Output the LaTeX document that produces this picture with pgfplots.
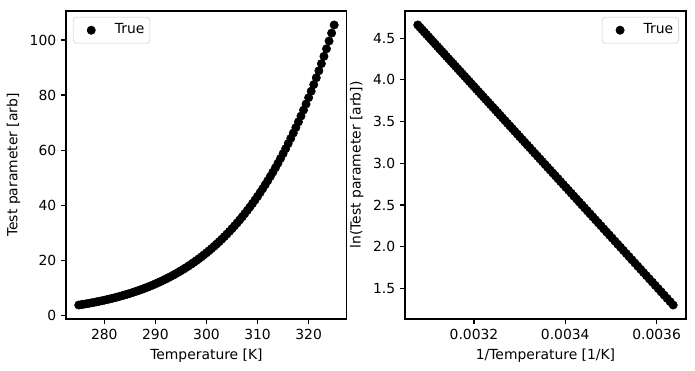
\documentclass[border=0pt]{standalone}
\usepackage{fontspec}
\setmainfont{DejaVu Sans}
\usepackage{pgfplots}
\usepackage{pgfplotstable}
\pgfplotsset{compat=1.18}
\pgfplotstableread{
T y invT lny
275.0 3.6760 0.0036364 1.30182
275.5 3.8245 0.0036298 1.34142
276.0 3.9784 0.0036232 1.38087
276.5 4.1379 0.0036166 1.42018
277.0 4.3032 0.0036101 1.45935
277.5 4.4744 0.0036036 1.49838
278.0 4.6519 0.0035971 1.53727
278.5 4.8356 0.0035907 1.57601
279.0 5.0260 0.0035842 1.61462
279.5 5.2231 0.0035778 1.65309
280.0 5.4272 0.0035714 1.69143
280.5 5.6385 0.0035651 1.72963
281.0 5.8572 0.0035587 1.76769
281.5 6.0837 0.0035524 1.80561
282.0 6.3180 0.0035461 1.84340
282.5 6.5604 0.0035398 1.88106
283.0 6.8113 0.0035336 1.91859
283.5 7.0709 0.0035273 1.95598
284.0 7.3392 0.0035211 1.99324
284.5 7.6170 0.0035149 2.03037
285.0 7.9040 0.0035088 2.06737
285.5 8.2009 0.0035026 2.10424
286.0 8.5078 0.0034965 2.14098
286.5 8.8251 0.0034904 2.17759
287.0 9.1530 0.0034843 2.21408
287.5 9.4918 0.0034783 2.25043
288.0 9.8420 0.0034722 2.28667
288.5 10.2039 0.0034662 2.32277
289.0 10.5777 0.0034602 2.35875
289.5 10.9639 0.0034542 2.39461
290.0 11.3627 0.0034483 2.43034
290.5 11.7748 0.0034423 2.46596
291.0 12.2000 0.0034364 2.50144
291.5 12.6393 0.0034305 2.53681
292.0 13.0927 0.0034247 2.57205
292.5 13.5608 0.0034188 2.60718
293.0 14.0437 0.0034130 2.64218
293.5 14.5424 0.0034072 2.67707
294.0 15.0569 0.0034014 2.71184
294.5 15.5878 0.0033956 2.74649
295.0 16.1354 0.0033898 2.78102
295.5 16.7003 0.0033841 2.81543
296.0 17.2831 0.0033784 2.84973
296.5 17.8840 0.0033727 2.88391
297.0 18.5038 0.0033670 2.91798
297.5 19.1428 0.0033613 2.95193
298.0 19.8016 0.0033557 2.98577
298.5 20.4810 0.0033501 3.01950
299.0 21.1812 0.0033445 3.05311
299.5 21.9026 0.0033389 3.08661
300.0 22.6464 0.0033333 3.12000
300.5 23.4127 0.0033278 3.15328
301.0 24.2025 0.0033223 3.18645
301.5 25.0155 0.0033167 3.21950
302.0 25.8536 0.0033113 3.25245
302.5 26.7166 0.0033058 3.28529
303.0 27.6055 0.0033003 3.31802
303.5 28.5208 0.0032949 3.35064
304.0 29.4635 0.0032895 3.38316
304.5 30.4342 0.0032841 3.41557
305.0 31.4333 0.0032787 3.44787
305.5 32.4619 0.0032733 3.48007
306.0 33.5205 0.0032680 3.51216
306.5 34.6100 0.0032626 3.54414
307.0 35.7313 0.0032573 3.57603
307.5 36.8848 0.0032520 3.60780
308.0 38.0720 0.0032468 3.63948
308.5 39.2929 0.0032415 3.67105
309.0 40.5492 0.0032362 3.70252
309.5 41.8415 0.0032310 3.73389
310.0 43.1706 0.0032258 3.76516
310.5 44.5373 0.0032206 3.79633
311.0 45.9430 0.0032154 3.82740
311.5 47.3877 0.0032103 3.85836
312.0 48.8731 0.0032051 3.88923
312.5 50.4003 0.0032000 3.92000
313.0 51.9703 0.0031949 3.95067
313.5 53.5834 0.0031898 3.98124
314.0 55.2419 0.0031847 4.01172
314.5 56.9459 0.0031797 4.04210
315.0 58.6963 0.0031746 4.07238
315.5 60.4954 0.0031696 4.10257
316.0 62.3436 0.0031646 4.13266
316.5 64.2413 0.0031596 4.16265
317.0 66.1921 0.0031546 4.19256
317.5 68.1941 0.0031496 4.22236
318.0 70.2514 0.0031447 4.25208
318.5 72.3633 0.0031397 4.28170
319.0 74.5311 0.0031348 4.31122
319.5 76.7584 0.0031299 4.34066
320.0 79.0439 0.0031250 4.37000
320.5 81.3895 0.0031201 4.39925
321.0 83.7983 0.0031153 4.42841
321.5 86.2696 0.0031104 4.45748
322.0 88.8068 0.0031056 4.48646
322.5 91.4097 0.0031008 4.51535
323.0 94.0805 0.0030960 4.54415
323.5 96.8206 0.0030912 4.57286
324.0 99.6315 0.0030864 4.60148
324.5 102.5166 0.0030817 4.63002
325.0 105.4730 0.0030769 4.65846
}\data

\pgfplotsset{
  mpl/.style={
    scale only axis, width=202.3pt, height=221.8pt,
    axis line style={line width=0.8pt},
    tick style={line width=0.8pt, black},
    tick align=outside, major tick length=3.5pt, tick pos=left,
    tick label style={font=\fontsize{10}{12}\selectfont},
    label style={font=\fontsize{10}{12}\selectfont},
    /pgf/number format/assume math mode=true,
    legend style={font=\fontsize{10}{12}\selectfont, draw=black!20, rounded corners=2.5pt,
      fill=white, fill opacity=0.8, text opacity=1,
      inner xsep=3pt, inner ysep=2.35pt,
      nodes={inner xsep=1pt, inner ysep=2pt, text height=7.5pt, text depth=2.5pt},
      /tikz/every odd column/.append style={column sep=6pt}},
    legend cell align=left,
  },
  mplmark/.style={only marks, mark=*, mark size=3pt, black, mark options={fill=black, draw=black},
    legend image code/.code={\path[draw=none, fill=none] (0pt,0pt) -- (20pt,0pt);
      \draw[fill opacity=1, draw opacity=1, ##1]
      plot[only marks] coordinates {(10pt,0pt)};}},
}

\begin{document}
\begin{tikzpicture}
\path[use as bounding box] (-47.5pt,-37.4pt) rectangle (452.9pt,229.7pt);
\begin{axis}[mpl, at={(0pt,0pt)}, anchor=south west,
  xmin=272.5, xmax=327.5, ymin=-1.41, ymax=110.56,
  xtick={280,290,300,310,320}, ytick={0,20,40,60,80,100},
  xlabel={Temperature [K]}, ylabel={Test parameter [arb]},
  legend style={at={(axis description cs:0,1)}, anchor=north west, xshift=5pt, yshift=-4.3pt},
]
\addplot[mplmark] table[x=T, y=y] {\data};
\addlegendentry{True}
\end{axis}
\begin{axis}[mpl, at={(244.1pt,0pt)}, anchor=south west,
  xmin=0.0030489, xmax=0.0036644, ymin=1.134, ymax=4.826,
  xtick={0.0032,0.0034,0.0036}, ytick={1.5,2,2.5,3,3.5,4,4.5},
  scaled x ticks=false,
  xticklabel style={/pgf/number format/.cd, fixed, precision=4},
  yticklabel style={/pgf/number format/.cd, fixed, fixed zerofill, precision=1},
  xlabel={1/Temperature [1/K]}, ylabel={ln(Test parameter [arb])},
  legend style={at={(axis description cs:1,1)}, anchor=north east, xshift=-5pt, yshift=-4.3pt},
]
\addplot[mplmark] table[x=invT, y=lny] {\data};
\addlegendentry{True}
\end{axis}
\end{tikzpicture}
\end{document}
